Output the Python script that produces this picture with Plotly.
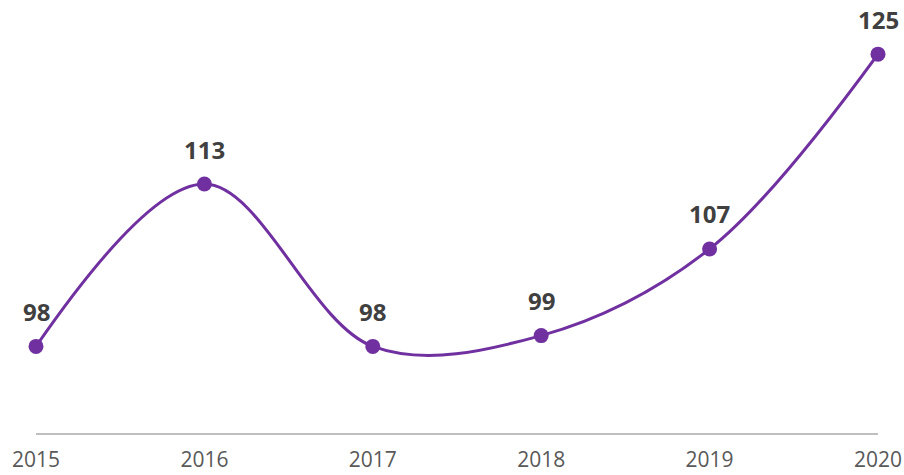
import plotly.graph_objects as go

years = ["2015", "2016", "2017", "2018", "2019", "2020"]
values = [98, 113, 98, 99, 107, 125]
labels = [str(v) for v in values]

xs = list(range(len(years)))

fig = go.Figure()
fig.add_trace(go.Scatter(
    x=xs, y=values,
    mode="lines+markers",
    line=dict(color="#7030A0", width=3, shape="spline", smoothing=1),
    marker=dict(color="#7030A0", size=15),
    cliponaxis=False,
    hoverinfo="skip",
))

for x, v, t in zip(xs, values, labels):
    fig.add_annotation(
        x=x, y=v, text=t, showarrow=False,
        xanchor="center", yanchor="middle", yshift=35,
        font=dict(family="Open Sans", size=24, color="#404040", weight="bold"),
    )

fig.update_layout(
    width=904, height=475,
    margin=dict(l=36, r=26, t=0, b=42),
    paper_bgcolor="white", plot_bgcolor="white",
    showlegend=False,
    xaxis=dict(
        range=[0, 5], tickvals=xs, ticktext=years,
        showgrid=False, zeroline=False, automargin=False,
        showline=True, linecolor="#BFBFBF", linewidth=2,
        ticks="", ticklabelstandoff=7,
        tickfont=dict(family="Open Sans", size=21, color="#595959"),
    ),
    yaxis=dict(range=[90, 130], visible=False, showgrid=False, automargin=False),
)

fig.write_html(
    "out.html",
    config={"displayModeBar": False},
    post_script="document.body.style.margin='0';document.body.style.overflow='hidden';",
)
